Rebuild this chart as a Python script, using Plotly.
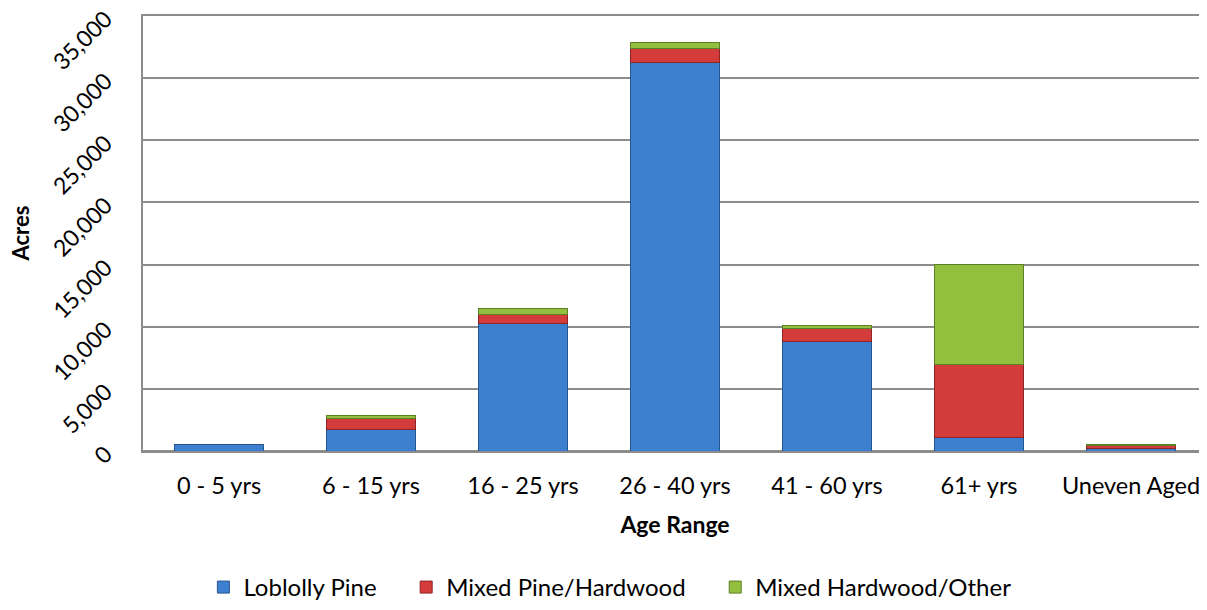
import plotly.graph_objects as go

categories = ["0 - 5 yrs", "6 - 15 yrs", "16 - 25 yrs", "26 - 40 yrs", "41 - 60 yrs", "61+ yrs", "Uneven Aged"]
loblolly = [510, 1770, 10280, 31260, 8800, 1070, 220]
mixed_pine_hw = [None, 810, 730, 1160, 1080, 5910, 240]
mixed_hw_other = [None, 290, 420, 450, 210, 7995, 30]

series = [
    ("Loblolly Pine", loblolly, "#3d80cf", "#27568f"),
    ("Mixed Pine/Hardwood", mixed_pine_hw, "#d43b3b", "#8f2424"),
    ("Mixed Hardwood/Other", mixed_hw_other, "#93bf3e", "#5f7f25"),
]

font_family = "Lato, 'Open Sans', sans-serif"
FS = 24
pad = "\u00a0" * 4

fig = go.Figure()
for i, (name, vals, color, line) in enumerate(series):
    fig.add_trace(go.Bar(
        x=categories, y=vals, name=name + (pad if i < len(series) - 1 else ""),
        marker=dict(color=color, line=dict(color=line, width=1)),
    ))

fig.update_layout(
    barmode="stack",
    bargap=0.42,
    width=1199, height=602,
    margin=dict(l=135, r=0, t=8, b=159, autoexpand=False),
    plot_bgcolor="white", paper_bgcolor="white",
    font=dict(family=font_family, size=FS, color="#000000"),
    legend=dict(
        orientation="h", xref="container", yref="container",
        x=0.502, xanchor="center", y=0.0, yanchor="bottom",
        font=dict(size=FS), traceorder="normal",
    ),
    xaxis=dict(
        title=dict(text="<b>Age Range</b>", font=dict(size=FS - 1), standoff=19),
        showline=True, mirror=True, linecolor="#8c8c8c", linewidth=1.5,
        ticks="outside", ticklen=13, tickcolor="rgba(0,0,0,0)",
        tickfont=dict(size=FS - 0.5), automargin=False,
    ),
    yaxis=dict(
        range=[0, 35000], dtick=5000,
        tickformat=",d", ticklabeloverflow="allow",
        tickangle=-45, tickfont=dict(size=FS - 1), automargin=False,
        showgrid=True, gridcolor="#8c8c8c", gridwidth=1.5,
        showline=True, linecolor="#8c8c8c", linewidth=1.5,
        zeroline=True, zerolinecolor="#8c8c8c", zerolinewidth=1.5,
        ticks="outside", ticklen=31, tickcolor="rgba(0,0,0,0)",
    ),
    annotations=[dict(
        text="<b>Acres</b>", xref="paper", yref="paper",
        x=(20 - 143) / 1064, y=0.5, xanchor="center", yanchor="middle",
        textangle=-90, showarrow=False, font=dict(size=FS - 2),
    )],
)

fig.write_html("out.html")
